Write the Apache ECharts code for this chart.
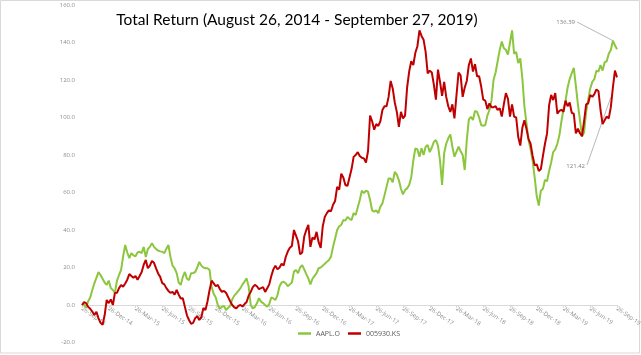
<!DOCTYPE html>
<html><head><meta charset="utf-8">
<script src="https://cdn.jsdelivr.net/npm/echarts@6/dist/echarts.min.js"></script>
<style>html,body{margin:0;padding:0;background:#fff}#c{width:641px;height:355px}</style>
</head><body><div id="c"></div>
<script>
const titleText = 'Total Return (August 26, 2014 - September 27, 2019)';
const seriesNames = ['AAPL.O', '005930.KS'];
const tickLabels = ['26-Sep-14','26-Dec-14','26-Mar-15','26-Jun-15','26-Sep-15','26-Dec-15','26-Mar-16','26-Jun-16','26-Sep-16','26-Dec-16','26-Mar-17','26-Jun-17','26-Sep-17','26-Dec-17','26-Mar-18','26-Jun-18','26-Sep-18','26-Dec-18','26-Mar-19','26-Jun-19','26-Sep-19'];
const yMin = -20, yMax = 160, yStep = 20;
const pointsPerTick = 13;

const aapl = [
  0, 0.5, -1.5, 2, 4, 8, 11.5, 14.5, 17.5, 16, 14, 12, 10.7,
  13, 9, 8, 6.4, 13, 16, 18.7, 26, 32, 28, 25, 27.7, 26.5,
  26, 28, 28.4, 27.7, 31, 25.6, 29.9, 31, 33, 31, 29.9, 29, 28.6,
  28.4, 27.7, 30, 32, 25.6, 21, 19.6, 17, 12, 10.7, 15, 17.6, 14,
  13.3, 16.9, 17, 17.6, 20, 23, 21, 20, 19.6, 19.6, 18.7, 9.6, 6,
  4, 0, -1.8, -1, -0.5, -2.7, -1.5, -0.5, 3, 5, 6.2, 7.5, 9,
  11, 12.5, 14.2, 9.8, 0, -1.8, -1, 0.9, 3.6, 1.8, 1, 0, -0.9,
  0.5, 4, 3.5, 2.7, 5.3, 10, 12, 12.4, 11.6, 10, 11, 12, 17.8,
  18.7, 17, 20, 21.3, 19, 16.5, 14.2, 11, 14, 15.5, 17, 19.6, 20,
  21, 22, 23, 24, 25.8, 31, 35.5, 40, 42, 42.7, 45.3, 45, 47,
  46, 45.3, 49, 48, 52, 56, 61, 59.6, 61, 60.4, 56, 50.5, 49.8,
  50.5, 49, 52.4, 54.2, 58.5, 63, 67.5, 67.5, 65.5, 71, 69.5, 66.5, 62,
  59, 61.3, 62.2, 64, 68, 77, 83.5, 83, 79.1, 83.6, 80, 84.4, 85.3,
  81.5, 84, 87, 88, 85, 77, 64, 80.9, 86, 88.9, 91, 84.4, 79.1,
  81.8, 84.4, 82, 80, 72, 88, 99, 100.4, 98.7, 103.5, 103, 100, 96,
  95.5, 96, 101, 104, 109, 120, 124, 130, 136, 140.5, 137, 136, 133.5,
  140, 146.5, 134, 135, 129, 131.5, 121, 106, 97, 88, 83, 77, 68,
  58, 53, 61, 62, 66.7, 66, 71.5, 76, 81.6, 83, 86, 90.5, 98,
  104.5, 109, 116, 120.5, 123.6, 126.5, 117, 107, 98.7, 90, 92, 103, 109.5,
  115.5, 119, 120.5, 125, 124.5, 128, 125, 129.5, 130, 134, 136, 141, 138.5,
  136.39
];

const ks = [
  0, 1.5, 1, -1, -2, -3.5, -5.3, -3.6, -7, -9.5, -10.5, -5.5, 2.7,
  1, 3, 0, 6.4, 6.5, 9, 10.7, 9.8, 11.5, 13.5, 16.5, 15.5, 14.5,
  15.5, 13.5, 15.5, 17.6, 21.5, 24, 19.6, 21, 23.5, 22.5, 19.5, 16.8, 15,
  11.7, 11, 9, 7.5, 6.5, 7, 5.5, 8, 5.5, 3.5, 3.6, -1, -5.5,
  -8, -10, -9.5, -7, -6, -8, -6.5, -1.6, -2.7, 2, 8, 13, 11.5,
  10, 10.7, 8.5, 7, 7.5, 6.5, 4.3, 2, 0, -1.2, -1.8, -0.5, 0,
  -0.8, 0.5, 1.6, 5, 7, 9.5, 10.7, 10, 8.5, 9, 9.5, 7, 8.9,
  11, 15.5, 19, 21, 19, 20, 22, 21, 25.6, 28.5, 30.5, 31.5, 40,
  37, 34, 27, 28, 36.5, 40, 42.7, 31, 36, 35, 39, 33.5, 30.5,
  42, 47, 49, 50.5, 50, 53.5, 55.5, 63, 61.5, 70, 68, 64, 63.5,
  68, 72.5, 79, 80, 81.5, 79.5, 78.5, 78.2, 76, 82, 101, 98, 93.5,
  96.5, 95.5, 98, 104, 106, 106, 111, 119.5, 115.5, 108, 103, 95, 103,
  99.5, 101, 116, 124.5, 130, 128, 134.5, 138, 146.5, 143.5, 141.5, 135, 123.5,
  125, 124, 117.5, 109.5, 125.5, 119, 111.5, 119, 111, 106, 103, 107, 99.5,
  112, 124, 122.5, 111, 116, 119.5, 128, 131.5, 124.5, 128.5, 122, 122, 116.5,
  109.5, 109, 104.5, 107.5, 105.5, 105.5, 106, 104, 105, 100.5, 107, 113, 110,
  100.5, 107, 100.5, 100, 89.6, 85, 94.5, 98.5, 94, 88.5, 86, 79.5, 74.5,
  75, 71.5, 72.5, 79.5, 86, 91.5, 106.5, 112, 109.3, 113, 102, 103.5, 104.1,
  103, 109, 106, 108, 102.5, 102, 91.5, 94, 91.6, 90, 98, 107, 107.6,
  112, 111, 112.5, 115, 114, 104, 96.5, 98.5, 100.5, 99.5, 105.5, 116, 125,
  121.42
];

const annotationTexts = ['136.39', '121.42'];

const categories = aapl.map((_, i) => {
  const d = new Date(Date.UTC(2014, 7, 26) + i * 7 * 86400000);
  return d.toISOString().slice(0, 10);
});
const isTick = (i) => i % pointsPerTick === 0;

const gridTop = 5, gridBottom = 12.5, chartH = 355;
const gridH = chartH - gridTop - gridBottom;
const zeroOffset = -((0 - yMin) / (yMax - yMin)) * gridH;

const chart = echarts.init(document.getElementById('c'), null, { renderer: 'canvas' });
chart.setOption({
  animation: false,
  backgroundColor: '#ffffff',
  title: {
    text: titleText,
    left: 292, top: 7, textAlign: 'center',
    textStyle: { fontFamily: "Lato, 'Open Sans', sans-serif", fontSize: 15.5, fontWeight: 'normal', color: '#000' }
  },
  legend: {
    data: seriesNames,
    left: 293, top: 325,
    icon: 'rect', itemWidth: 13, itemHeight: 2.5, itemGap: 8,
    textStyle: { fontSize: 7, color: '#595959', fontFamily: "'Open Sans', sans-serif" }
  },
  grid: { left: 82, right: 24, top: gridTop, bottom: gridBottom, containLabel: false, outerBoundsMode: 'none' },
  xAxis: {
    type: 'category',
    data: categories,
    boundaryGap: false,
    position: 'bottom',
    offset: zeroOffset,
    axisLine: { onZero: false, lineStyle: { color: '#d9d9d9', width: 1 } },
    axisTick: { show: true, interval: isTick, length: 3, lineStyle: { color: '#d9d9d9' } },
    axisLabel: {
      interval: isTick,
      formatter: (v, i) => tickLabels[i / pointsPerTick] || '',
      rotate: -35, fontSize: 6, color: '#8c8c8c', margin: 3,
      fontFamily: "'Open Sans', sans-serif"
    },
    splitLine: { show: false }
  },
  yAxis: {
    type: 'value', min: yMin, max: yMax, interval: yStep,
    axisLine: { show: false }, axisTick: { show: false },
    splitLine: { show: false },
    axisLabel: { formatter: (v) => v.toFixed(1), fontSize: 6, color: '#8c8c8c', margin: 7, fontFamily: "'Open Sans', sans-serif" }
  },
  series: [
    { name: seriesNames[0], type: 'line', data: aapl, showSymbol: false, symbol: 'none',
      lineStyle: { color: '#8cc63e', width: 2 }, itemStyle: { color: '#8cc63e' } },
    { name: seriesNames[1], type: 'line', data: ks, showSymbol: false, symbol: 'none',
      lineStyle: { color: '#c00000', width: 2 }, itemStyle: { color: '#c00000' } }
  ]
});

const gAnchor = chart.convertToPixel({ gridIndex: 0 }, [258, aapl[258]]);
const rAnchor = chart.convertToPixel({ gridIndex: 0 }, [257, ks[257]]);
chart.setOption({
  graphic: [
    { type: 'rect', shape: { x: 0.5, y: 0.5, width: 639, height: 352.5 }, style: { fill: 'none', stroke: '#d9d9d9', lineWidth: 1 }, silent: true },
    { type: 'line', shape: { x1: 577, y1: 22, x2: gAnchor[0], y2: gAnchor[1] }, style: { stroke: '#a6a6a6', lineWidth: 0.8 }, silent: true },
    { type: 'text', x: 575, y: 22, style: { text: annotationTexts[0], fill: '#7f7f7f', fontSize: 6, align: 'right', verticalAlign: 'middle', fontFamily: "'Open Sans', sans-serif" }, silent: true },
    { type: 'line', shape: { x1: 587, y1: 165, x2: rAnchor[0], y2: rAnchor[1] - 10 }, style: { stroke: '#a6a6a6', lineWidth: 0.8 }, silent: true },
    { type: 'text', x: 585, y: 166, style: { text: annotationTexts[1], fill: '#7f7f7f', fontSize: 6, align: 'right', verticalAlign: 'middle', fontFamily: "'Open Sans', sans-serif" }, silent: true }
  ]
});
</script>
</body></html>
